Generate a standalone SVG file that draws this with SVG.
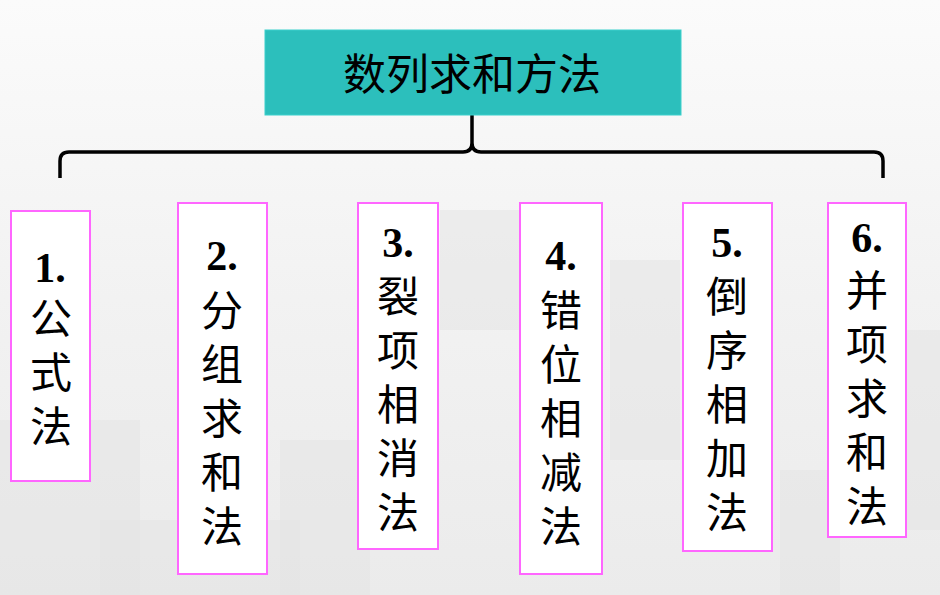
<svg xmlns="http://www.w3.org/2000/svg" width="940" height="595" viewBox="0 0 940 595">
<defs>
<linearGradient id="bg" x1="0" y1="0" x2="0" y2="1">
<stop offset="0" stop-color="#fbfbfb"/>
<stop offset="0.5" stop-color="#f2f2f2"/>
<stop offset="1" stop-color="#ebebeb"/>
</linearGradient>
<style>
.box{fill:#ffffff;stroke:#ff66ff;stroke-width:2}
.num{font-family:"Liberation Serif",serif;font-weight:bold;font-size:42px;fill:#000;text-anchor:middle}
.cjk{font-family:"Noto Sans CJK SC",sans-serif;font-size:42px;fill:#000;writing-mode:vertical-rl;text-orientation:upright;letter-spacing:12px}
.title{font-family:"Noto Sans CJK SC",sans-serif;font-size:43px;fill:#000;text-anchor:middle;dominant-baseline:central}
.conn{fill:none;stroke:#000;stroke-width:3.5;stroke-linejoin:round}
.sq{fill:#e4e4e4;opacity:0.5}
</style>
</defs>
<rect width="940" height="595" fill="url(#bg)"/>
<g id="background">
<rect class="sq" x="0" y="420" width="140" height="175"/>
<rect class="sq" x="280" y="440" width="90" height="155"/>
<rect class="sq" x="440" y="210" width="80" height="120"/>
<rect class="sq" x="610" y="260" width="70" height="200"/>
<rect class="sq" x="900" y="330" width="40" height="200"/>
<rect class="sq" x="100" y="520" width="200" height="75"/>
<rect class="sq" x="780" y="470" width="60" height="125"/>
</g>
<g id="connectors">
<path class="conn" d="M60,178 V161 Q60,152 69,152 H463 Q472,152 472,143 V115 M472,143 Q472,152 481,152 H874 Q883,152 883,161 V178"/>
</g>
<g id="root">
<rect x="265" y="30" width="416" height="85" fill="#2cbfbc" stroke="#3ad0cc" stroke-width="1"/>
<text class="title" x="472" y="71">数列求和方法</text>
</g>
<g id="node1">
<rect class="box" x="11" y="211" width="79" height="270"/>
<text class="num" x="50" y="282">1.</text>
<text class="cjk" x="51" y="297">公式法</text>
</g>
<g id="node2">
<rect class="box" x="178" y="203" width="89" height="371"/>
<text class="num" x="222" y="270">2.</text>
<text class="cjk" x="222" y="289">分组求和法</text>
</g>
<g id="node3">
<rect class="box" x="358" y="203" width="80" height="346"/>
<text class="num" x="398" y="257">3.</text>
<text class="cjk" x="398" y="275">裂项相消法</text>
</g>
<g id="node4">
<rect class="box" x="520" y="203" width="82" height="371"/>
<text class="num" x="561" y="270">4.</text>
<text class="cjk" x="561" y="289">错位相减法</text>
</g>
<g id="node5">
<rect class="box" x="683" y="203" width="89" height="348"/>
<text class="num" x="727" y="257">5.</text>
<text class="cjk" x="727" y="275">倒序相加法</text>
</g>
<g id="node6">
<rect class="box" x="828" y="203" width="78" height="334"/>
<text class="num" x="867" y="252">6.</text>
<text class="cjk" x="867" y="269">并项求和法</text>
</g>
</svg>
